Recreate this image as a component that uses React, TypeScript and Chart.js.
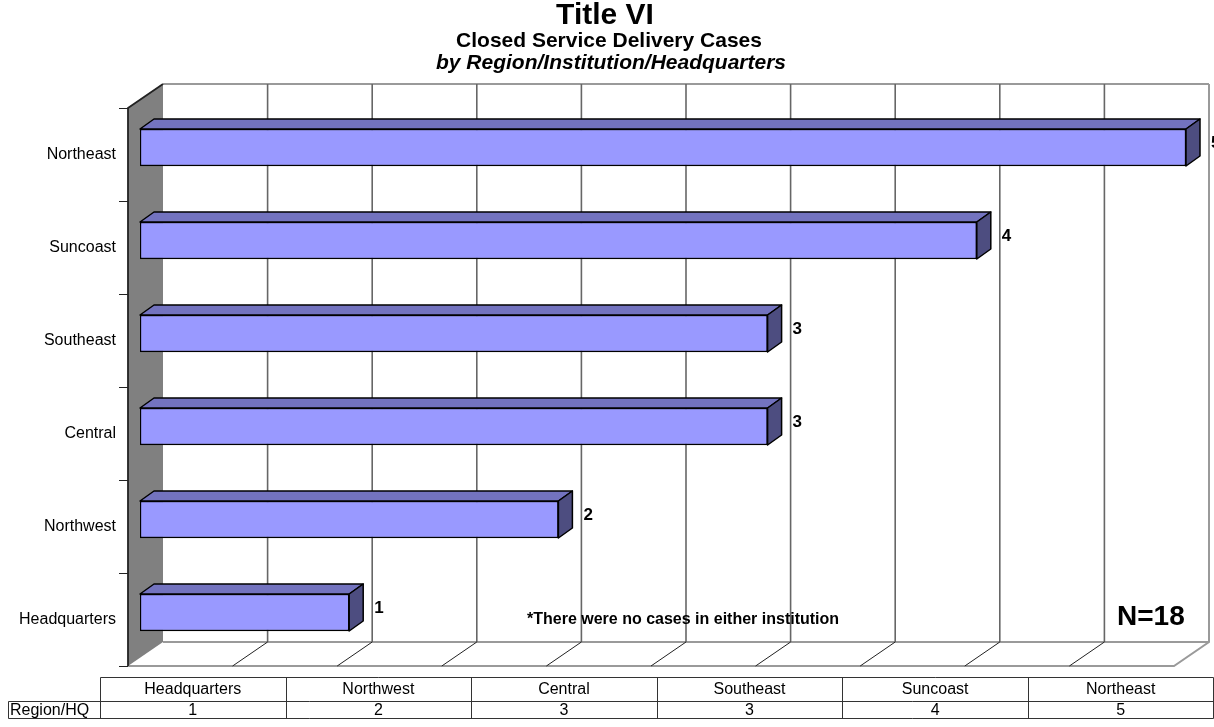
import React, { useEffect, useRef } from "react";
import { Chart, registerables } from "chart.js";

Chart.register(...registerables);

const regions = ["Headquarters", "Northwest", "Central", "Southeast", "Suncoast", "Northeast"];
const cases = [1, 2, 3, 3, 4, 5];
const tableRowLabel = "Region/HQ";
const titleLines = ["Title VI", "Closed Service Delivery Cases", "by Region/Institution/Headquarters"];
const noteText = "*There were no cases in either institution";
const totalText = "N=18";

const FONT = "Arial, 'Liberation Sans', sans-serif";
const FRONT = { dx: -12, dy: 7 };
const BACK = { dx: 23, dy: -17 };
const BAR_DEPTH = { dx: 14, dy: -10 };

const threeD = {
  id: "threeD",
  beforeDatasetsDraw(chart: any) {
    const { ctx, chartArea: a, scales } = chart;
    const xs = scales.x;
    const min = xs.min, max = xs.max;
    const x0 = xs.getPixelForValue(min);
    const x5 = xs.getPixelForValue(max);
    const top = a.top, bot = a.bottom;
    ctx.save();
    // left wall
    ctx.fillStyle = "#808080";
    ctx.beginPath();
    ctx.moveTo(x0 + FRONT.dx, top + FRONT.dy);
    ctx.lineTo(x0 + BACK.dx, top + BACK.dy);
    ctx.lineTo(x0 + BACK.dx, bot + BACK.dy);
    ctx.lineTo(x0 + FRONT.dx, bot + FRONT.dy);
    ctx.closePath();
    ctx.fill();
    // floor edges (grey, thicker)
    ctx.strokeStyle = "#9a9a9a";
    ctx.lineWidth = 2;
    ctx.beginPath();
    ctx.moveTo(x0 + BACK.dx, top + BACK.dy);
    ctx.lineTo(x5 + BACK.dx, top + BACK.dy);
    ctx.moveTo(x0 + BACK.dx, bot + BACK.dy);
    ctx.lineTo(x5 + BACK.dx, bot + BACK.dy);
    ctx.moveTo(x0 + FRONT.dx, bot + FRONT.dy);
    ctx.lineTo(x5 + FRONT.dx, bot + FRONT.dy);
    ctx.lineTo(x5 + BACK.dx, bot + BACK.dy);
    ctx.lineTo(x5 + BACK.dx, top + BACK.dy);
    ctx.stroke();
    // gridlines on back wall
    ctx.strokeStyle = "#666";
    ctx.lineWidth = 1.6;
    for (let v = min + 0.5; v < max - 1e-9; v += 0.5) {
      const px = xs.getPixelForValue(v);
      ctx.beginPath();
      ctx.moveTo(px + BACK.dx, top + BACK.dy);
      ctx.lineTo(px + BACK.dx, bot + BACK.dy);
      ctx.stroke();
    }
    // floor diagonals
    ctx.strokeStyle = "#222";
    ctx.lineWidth = 1;
    for (let v = min + 0.5; v < max - 1e-9; v += 0.5) {
      const px = xs.getPixelForValue(v);
      ctx.beginPath();
      ctx.moveTo(px + BACK.dx, bot + BACK.dy);
      ctx.lineTo(px + FRONT.dx, bot + FRONT.dy);
      ctx.stroke();
    }
    // left wall edges + axis ticks
    ctx.strokeStyle = "#222";
    ctx.lineWidth = 1.8;
    ctx.beginPath();
    ctx.moveTo(x0 + FRONT.dx, bot + FRONT.dy);
    ctx.lineTo(x0 + FRONT.dx, top + FRONT.dy);
    ctx.lineTo(x0 + BACK.dx, top + BACK.dy);
    ctx.stroke();
    ctx.lineWidth = 1;
    const n = regions.length;
    ctx.beginPath();
    for (let i = 0; i <= n; i++) {
      const yy = Math.round(top + FRONT.dy + (i * (bot - top)) / n) + 0.5;
      ctx.moveTo(x0 + FRONT.dx - 9, yy);
      ctx.lineTo(x0 + FRONT.dx, yy);
    }
    ctx.stroke();
    ctx.restore();
  },
  afterDatasetsDraw(chart: any) {
    const { ctx } = chart;
    const meta = chart.getDatasetMeta(0);
    ctx.save();
    ctx.lineWidth = 1.5;
    ctx.strokeStyle = "#000";
    ctx.lineJoin = "round";
    meta.data.forEach((bar: any, i: number) => {
      const p = bar.getProps(["x", "y", "base", "height"], true);
      const t = p.y - p.height / 2;
      const b = p.y + p.height / 2;
      const xb = p.base, xe = p.x;
      // top face
      ctx.fillStyle = "#7373BF";
      ctx.beginPath();
      ctx.moveTo(xb, t);
      ctx.lineTo(xb + BAR_DEPTH.dx, t + BAR_DEPTH.dy);
      ctx.lineTo(xe + BAR_DEPTH.dx, t + BAR_DEPTH.dy);
      ctx.lineTo(xe, t);
      ctx.closePath();
      ctx.fill();
      ctx.stroke();
      // side face
      ctx.fillStyle = "#4D4D80";
      ctx.beginPath();
      ctx.moveTo(xe, t);
      ctx.lineTo(xe + BAR_DEPTH.dx, t + BAR_DEPTH.dy);
      ctx.lineTo(xe + BAR_DEPTH.dx, b + BAR_DEPTH.dy);
      ctx.lineTo(xe, b);
      ctx.closePath();
      ctx.fill();
      ctx.stroke();
      // value label
      ctx.fillStyle = "#000";
      ctx.font = `bold 17px ${FONT}`;
      ctx.textAlign = "left";
      ctx.textBaseline = "middle";
      ctx.fillText(String(cases[i]), xe + BAR_DEPTH.dx + 11, p.y - 4);
    });
    ctx.restore();
  },
  afterDraw(chart: any) {
    const { ctx } = chart;
    ctx.save();
    ctx.fillStyle = "#000";
    ctx.textAlign = "center";
    ctx.textBaseline = "middle";
    ctx.font = `bold 30px ${FONT}`;
    ctx.fillText(titleLines[0], 605, 16);
    ctx.font = `bold 21px ${FONT}`;
    ctx.fillText(titleLines[1], 609, 41);
    ctx.font = `italic bold 21px ${FONT}`;
    ctx.fillText(titleLines[2], 611, 63);
    ctx.font = `bold 16px ${FONT}`;
    ctx.textAlign = "left";
    ctx.fillText(noteText, 527, 620);
    ctx.font = `bold 28px ${FONT}`;
    ctx.fillText(totalText, 1117, 617);

    // data table
    const left = 100, right = 1213.5, y1 = 677.5, y2 = 701.5, y3 = 718.5;
    const n = regions.length;
    const cw = (right - left) / n;
    ctx.strokeStyle = "#333";
    ctx.lineWidth = 1;
    ctx.beginPath();
    ctx.moveTo(left + 0.5, y1);
    ctx.lineTo(right, y1);
    ctx.moveTo(8.5, y2);
    ctx.lineTo(right, y2);
    ctx.moveTo(8.5, y3);
    ctx.lineTo(right, y3);
    ctx.moveTo(8.5, y2);
    ctx.lineTo(8.5, y3);
    for (let i = 0; i <= n; i++) {
      const xx = Math.round(left + i * cw) + 0.5;
      ctx.moveTo(Math.min(xx, right), y1);
      ctx.lineTo(Math.min(xx, right), y3);
    }
    ctx.stroke();
    ctx.font = `16px ${FONT}`;
    ctx.textAlign = "center";
    regions.forEach((r, i) => {
      const cx = left + (i + 0.5) * cw;
      ctx.fillText(r, cx, 690);
      ctx.fillText(String(cases[i]), cx, 710.5);
    });
    ctx.textAlign = "left";
    ctx.fillText(tableRowLabel, 10, 710.5);
    ctx.restore();
  },
};

export default function App() {
  const ref = useRef<HTMLCanvasElement | null>(null);
  useEffect(() => {
    if (!ref.current) return;
    const chart = new Chart(ref.current, {
      type: "bar",
      data: {
        labels: regions,
        datasets: [
          {
            data: cases,
            backgroundColor: "#9999FF",
            borderColor: "#000",
            borderWidth: 1.5,
            borderSkipped: false,
            barThickness: 37,
          },
        ],
      },
      options: {
        indexAxis: "y",
        animation: false,
        responsive: false,
        devicePixelRatio: 1,
        layout: { padding: { left: 0, right: 28, top: 101, bottom: 68 } },
        plugins: { legend: { display: false }, title: { display: false }, tooltip: { enabled: false } },
        scales: {
          x: {
            display: false,
            min: 0,
            max: 5,
          },
          y: {
            reverse: true,
            grid: { display: false, drawTicks: false },
            border: { display: false },
            ticks: {
              padding: 24,
              labelOffset: 7,
              color: "#000",
              font: { family: FONT, size: 16 },
            },
            afterFit: (scale: any) => {
              scale.width = 140;
            },
          },
        },
      },
      plugins: [threeD],
    });
    return () => chart.destroy();
  }, []);
  return (
    <div style={{ position: "fixed", left: 0, top: 0, width: 1214, height: 727, background: "#fff" }}>
      <canvas ref={ref} width={1214} height={727} />
    </div>
  );
}
